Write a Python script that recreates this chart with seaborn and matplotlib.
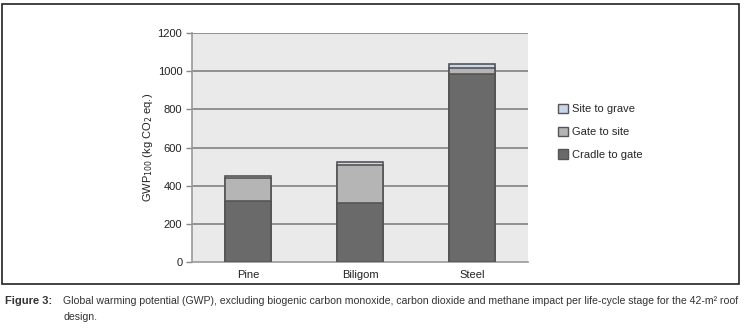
import matplotlib
matplotlib.use("Agg")
import matplotlib.pyplot as plt
import matplotlib.patches as mpatches
import seaborn as sns
import pandas as pd
import numpy as np

categories = ["Pine", "Biligom", "Steel"]
cradle_to_gate = [318, 308, 985]
gate_to_site = [121, 199, 30]
site_to_grave = [12, 19, 21]
yticks = [0, 200, 400, 600, 800, 1000, 1200]

sns.set_theme(style="white")
plt.rcParams['font.family'] = ['Liberation Sans', 'DejaVu Sans']

df = pd.DataFrame({"cat": categories,
                   "c1": np.array(cradle_to_gate),
                   "c2": np.array(cradle_to_gate) + np.array(gate_to_site),
                   "c3": np.array(cradle_to_gate) + np.array(gate_to_site) + np.array(site_to_grave)})

fig = plt.figure(figsize=(7.48, 3.28), dpi=100)
ax = fig.add_axes([192/748, 1-262/328, 336/748, 229/328])
ax.set_facecolor("#EAEAEA")

edge = "#555555"
cols = {"c3": "#C9D5EA", "c2": "#B5B5B5", "c1": "#6A6A6A"}
for key in ["c3", "c2", "c1"]:
    sns.barplot(data=df, x="cat", y=key, color=cols[key], width=0.41,
                edgecolor=edge, linewidth=1.2, saturation=1, ax=ax, zorder=3)

ax.set_ylim(0, 1200)
ax.set_xlim(-0.5, 2.5)
ax.set_yticks(yticks)
ax.set_yticklabels([str(v) for v in yticks], fontsize=8, color="#222222")
for v in yticks[1:]:
    ax.axhline(v, color="#8A8A8A", lw=1.3, zorder=1)
ax.set_xticks(range(3))
ax.set_xticklabels(categories, fontsize=8, color="#222222")
ax.set_xticks([-0.5, 0.5, 1.5, 2.5], minor=True)
ax.tick_params(axis="x", which="major", length=0, pad=6)
ax.tick_params(axis="x", which="minor", length=4, color="#888888", direction="out", width=1)
ax.tick_params(axis="y", length=4, color="#888888", width=1, pad=3, left=True)
for s in ["top", "right"]:
    ax.spines[s].set_visible(False)
ax.spines["left"].set_color("#999999")
ax.spines["left"].set_linewidth(1.2)
ax.spines["bottom"].set_color("#999999")
ax.spines["bottom"].set_linewidth(1.2)
ax.set_xlabel("")
ax.set_ylabel("GWP$_{100}$ (kg CO$_2$ eq.)", fontsize=8, color="#222222", labelpad=2)

handles = [mpatches.Patch(facecolor=cols["c3"], edgecolor=edge, label="Site to grave"),
           mpatches.Patch(facecolor=cols["c2"], edgecolor=edge, label="Gate to site"),
           mpatches.Patch(facecolor=cols["c1"], edgecolor=edge, label="Cradle to gate")]
fig.legend(handles=handles, loc="upper left", bbox_to_anchor=(558/748, 1-104/328),
           frameon=False, fontsize=8, handlelength=0.9, handleheight=0.9,
           handletextpad=0.4, labelspacing=1.1, borderaxespad=0, borderpad=0)

frame = mpatches.Rectangle((2/748, 1-284/328), 737/748, 280/328, transform=fig.transFigure,
                           fill=False, edgecolor="#222222", lw=1.2)
fig.add_artist(frame)

fig.text(5/748, 1-301/328, "Figure 3:", fontsize=8, fontweight="bold", color="#333333", va="center")
fig.text(63/748, 1-301/328,
         "Global warming potential (GWP), excluding biogenic carbon monoxide, carbon dioxide and methane impact per life-cycle stage for the 42-m² roof",
         fontsize=7.6, color="#333333", va="center")
fig.text(63/748, 1-317/328, "design.", fontsize=7.6, color="#333333", va="center")

fig.savefig("out.png", dpi=100)
